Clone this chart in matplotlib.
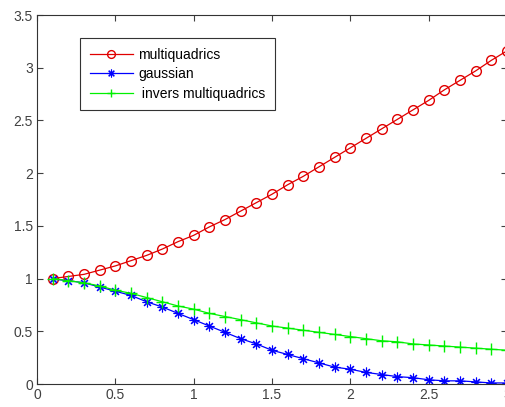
import matplotlib
matplotlib.use("Agg")
import matplotlib.pyplot as plt

plt.rcParams['font.family'] = ['Liberation Sans', 'DejaVu Sans']

# sample points
x = [0.1, 0.2, 0.3, 0.4, 0.5, 0.6, 0.7, 0.8, 0.9, 1.0,
     1.1, 1.2, 1.3, 1.4, 1.5, 1.6, 1.7, 1.8, 1.9, 2.0,
     2.1, 2.2, 2.3, 2.4, 2.5, 2.6, 2.7, 2.8, 2.9, 3.0]
multiquadrics = [1.00, 1.02, 1.04, 1.08, 1.12, 1.17, 1.22, 1.28, 1.35, 1.41,
                 1.49, 1.56, 1.64, 1.72, 1.80, 1.89, 1.97, 2.06, 2.15, 2.24,
                 2.33, 2.42, 2.51, 2.60, 2.69, 2.79, 2.88, 2.97, 3.07, 3.16]
gaussian = [0.995, 0.98, 0.96, 0.92, 0.88, 0.84, 0.78, 0.73, 0.67, 0.61,
            0.55, 0.49, 0.43, 0.38, 0.32, 0.28, 0.24, 0.20, 0.16, 0.14,
            0.11, 0.09, 0.07, 0.06, 0.04, 0.03, 0.03, 0.02, 0.01, 0.01]
inv_multiquadrics = [1.00, 0.98, 0.96, 0.93, 0.89, 0.86, 0.82, 0.78, 0.74, 0.71,
                     0.67, 0.64, 0.61, 0.58, 0.55, 0.53, 0.51, 0.49, 0.47, 0.45,
                     0.43, 0.41, 0.40, 0.38, 0.37, 0.36, 0.35, 0.34, 0.33, 0.32]
labels = ['multiquadrics', 'gaussian', ' invers multiquadrics']
xticks = [0, 0.5, 1, 1.5, 2, 2.5, 3]
yticks = [0, 0.5, 1, 1.5, 2, 2.5, 3, 3.5]

fig = plt.figure(figsize=(5.06, 4.07), dpi=100)
# the right spine sits just past the picture edge, as in the reference
ax = fig.add_axes([37 / 506, 23 / 407, 470 / 506, 369 / 407])

ax.plot(x, multiquadrics, color='#e00000', marker='o', markersize=7,
        markerfacecolor='none', linewidth=0.9, label=labels[0])
ax.plot(x, gaussian, color='#0000ff', marker=(8, 2, 0), markersize=7,
        markeredgewidth=0.8, linewidth=0.9, label=labels[1])
ax.plot(x, inv_multiquadrics, color='#00f000', marker='+', markersize=8,
        linewidth=0.9, label=labels[2])

ax.set_xlim(0, 3)
ax.set_ylim(0, 3.5)
ax.set_xticks(xticks)
ax.set_yticks(yticks)
ax.set_xticklabels(['0', '0.5', '1', '1.5', '2', '2.5', '3'])
ax.set_yticklabels(['0', '0.5', '1', '1.5', '2', '2.5', '3', '3.5'])
ax.tick_params(direction='in', top=True, right=True, length=4, pad=3,
               labelsize=10, colors='#404040')
for s in ax.spines.values():
    s.set_color('#333333')

leg = ax.legend(loc='upper left', bbox_to_anchor=(0.092, 0.938), fontsize=10,
                fancybox=False, framealpha=1, edgecolor='#333333',
                handlelength=3.1, borderpad=0.7, labelspacing=0.4,
                handletextpad=0.35, borderaxespad=0, markerscale=0.8)
leg.get_frame().set_linewidth(0.8)

fig.savefig('out.png', dpi=100)
